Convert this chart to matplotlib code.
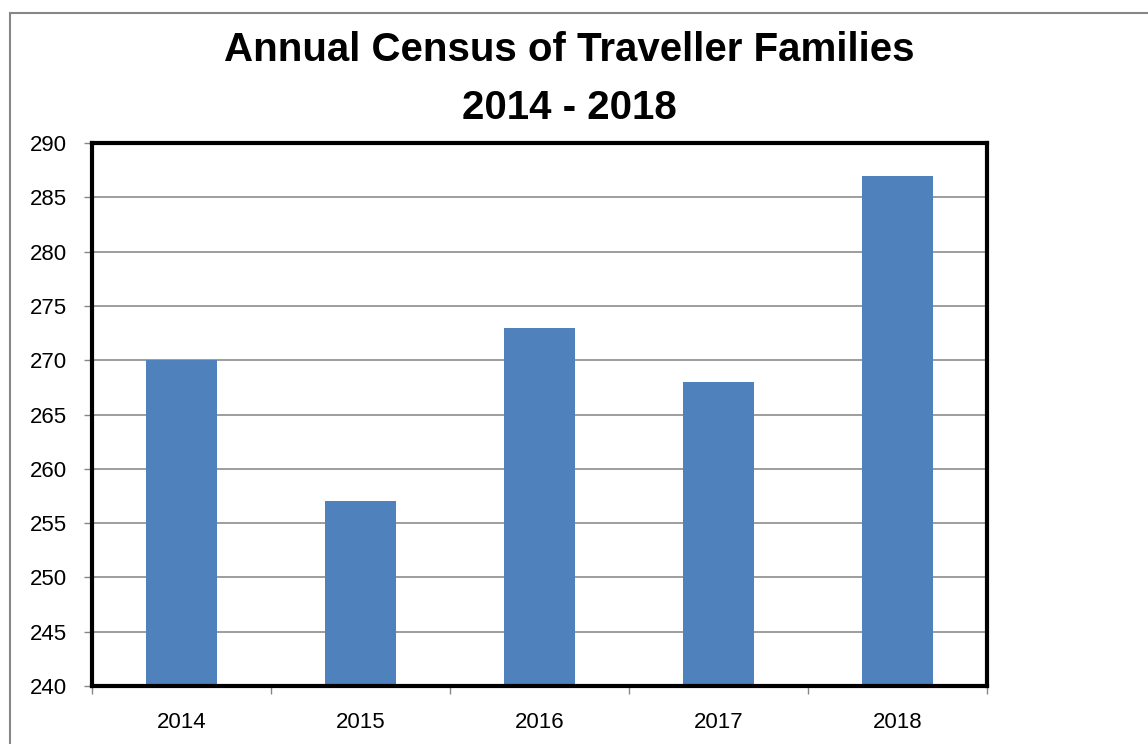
import matplotlib.pyplot as plt
from matplotlib.patches import Rectangle

years = ["2014", "2015", "2016", "2017", "2018"]
families = [270, 257, 273, 268, 287]
y_ticks = [240, 245, 250, 255, 260, 265, 270, 275, 280, 285, 290]

plt.rcParams['font.family'] = ['Liberation Sans', 'DejaVu Sans']

W, H = 1148, 744
fig = plt.figure(figsize=(W / 100, H / 100), dpi=100)

# outer chart frame (runs off the right/bottom edge)
fig.patches.append(Rectangle((10 / W, -0.1), 1.2, 1 - 13 / H + 0.1,
                             transform=fig.transFigure, fill=False,
                             edgecolor='#878787', linewidth=1.5))

ax = fig.add_axes([92 / W, 1 - 686 / H, (987 - 92) / W, (686 - 143) / H])
x = range(len(years))
ax.bar(x, [v - 240 for v in families], bottom=240, width=0.4,
       color='#4F81BD', zorder=2)

ax.set_xlim(-0.5, 4.5)
ax.set_ylim(240, 290)
ax.set_yticks(y_ticks)
ax.set_yticklabels([str(t) for t in y_ticks], fontsize=16)
ax.set_xticks(list(x))
ax.set_xticklabels(years, fontsize=16)
ax.set_xticks([i - 0.5 for i in range(len(years) + 1)], minor=True)
ax.tick_params(axis='x', which='major', length=0, pad=19)
ax.tick_params(axis='x', which='minor', length=6, color='#878787', width=1)
ax.tick_params(axis='y', length=6, color='#878787', width=1, pad=12)
ax.yaxis.grid(True, color='#8c8c8c', linewidth=1.2, zorder=1)
ax.set_axisbelow(True)
for s in ax.spines.values():
    s.set_linewidth(3)
    s.set_color('black')

fig.text(569 / W, 1 - 50 / H, "Annual Census of Traveller Families",
         ha='center', va='center', fontsize=29, fontweight='bold')
fig.text(569 / W, 1 - 108 / H, "2014 - 2018",
         ha='center', va='center', fontsize=29, fontweight='bold')

fig.savefig("out.png", dpi=100)
